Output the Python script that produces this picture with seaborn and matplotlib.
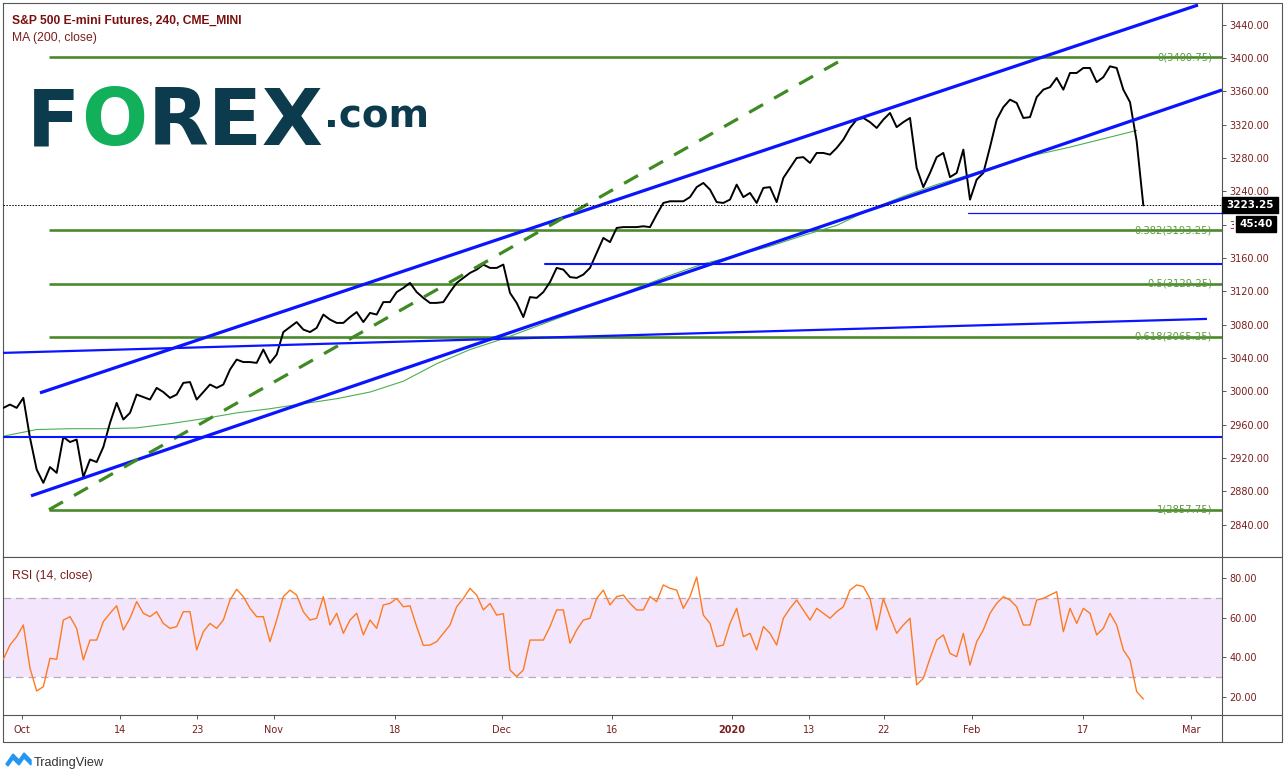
import numpy as np
import pandas as pd
import matplotlib
matplotlib.use("Agg")
import matplotlib.pyplot as plt
from matplotlib.patches import Rectangle, Polygon
from matplotlib.lines import Line2D
from matplotlib.transforms import Bbox, TransformedBbox
import seaborn as sns

# ------------------------------------------------------------------ data
# 4h closes of the S&P 500 E-mini, sampled evenly along the chart (read from picture)
close = [
    2980, 2984, 2980, 2992, 2944, 2906, 2890, 2909, 2902, 2945,
    2939, 2942, 2897, 2918, 2915, 2933, 2962, 2986, 2966, 2974,
    2996, 2993, 2990, 3004, 2999, 2992, 2996, 3010, 3011, 2990,
    2999, 3008, 3004, 3008, 3026, 3038, 3035, 3035, 3034, 3050,
    3034, 3044, 3071, 3077, 3083, 3074, 3071, 3076, 3092, 3086,
    3082, 3082, 3089, 3095, 3083, 3094, 3092, 3107, 3107, 3119,
    3124, 3130, 3119, 3112, 3106, 3106, 3107, 3119, 3130, 3136,
    3142, 3146, 3152, 3148, 3148, 3152, 3118, 3106, 3089, 3113,
    3112, 3119, 3131, 3148, 3146, 3137, 3136, 3140, 3148, 3166,
    3184, 3179, 3196, 3197, 3197, 3197, 3198, 3197, 3212, 3226,
    3228, 3228, 3228, 3233, 3245, 3250, 3242, 3227, 3226, 3230,
    3248, 3233, 3238, 3226, 3244, 3245, 3227, 3256, 3268, 3280,
    3281, 3274, 3286, 3286, 3284, 3292, 3302, 3316, 3326, 3328,
    3323, 3316, 3326, 3334, 3317, 3323, 3328, 3268, 3245, 3262,
    3281, 3286, 3257, 3262, 3290, 3230, 3254, 3262, 3293, 3326,
    3341, 3350, 3346, 3328, 3329, 3353, 3362, 3365, 3376, 3362,
    3382, 3382, 3388, 3388, 3371, 3377, 3390, 3388, 3362, 3347,
    3300, 3223,
]

rsi = [
    39, 46.2, 50.4, 56.3, 34.5, 23, 25.2, 39.5, 39, 58.8,
    60.5, 54.6, 38.7, 48.7, 48.7, 58.0, 62.2, 66, 53.8, 59.7,
    68.1, 62.2, 60.5, 63.0, 57.1, 54.6, 55.5, 63.0, 63.0, 43.7,
    52.9, 57.1, 54.6, 58.8, 68.9, 74.3, 70.6, 64.7, 60.5, 60.5,
    47.9, 58.8, 70.6, 73.9, 71.4, 63.0, 58.8, 59.7, 70.6, 56.3,
    62.2, 52.1, 58.8, 62.2, 51.3, 58.8, 54.6, 66.4, 67.2, 69.7,
    65.5, 66, 55.5, 46, 46.2, 47.9, 52.1, 56.3, 65.5, 69.7,
    74.8, 71.4, 63.9, 67.2, 61.3, 62, 33.6, 30.3, 33.6, 48.7,
    48.7, 48.7, 55.5, 63.9, 63.9, 47.1, 53.8, 58.8, 59.7, 69.7,
    73.9, 66.4, 70.6, 71.4, 67.2, 63.9, 63.9, 70.6, 68.1, 76.5,
    74.8, 73.9, 64.7, 70.6, 80.5, 61.3, 57.1, 45.4, 46.2, 57.1,
    64.7, 50.4, 52.1, 43.7, 55.5, 52.1, 46.2, 59.7, 64.7, 68.9,
    63.9, 58.8, 64.7, 62.2, 59.7, 63.0, 65.5, 73.9, 76.5, 75.7,
    69.7, 53.8, 69.7, 60.5, 52.1, 56.3, 59.7, 26.1, 29.4, 39.5,
    48.7, 51.3, 42.0, 40.3, 52.1, 36.1, 47.9, 53.8, 62.2, 67.2,
    70.6, 68.9, 65.5, 56.3, 56.3, 68.9, 69.7, 71.4, 73.1, 52.9,
    64.7, 57.1, 64.7, 62.2, 51.3, 54.6, 62.2, 56.3, 43.7, 38.7,
    22.7, 19,
]

# 200-period moving average, read every 5 samples
ma200 = [
    2946, 2954, 2955, 2955, 2956, 2961, 2967, 2974, 2979, 2985,
    2991, 2999, 3012, 3033, 3050, 3063, 3078, 3093, 3108, 3124,
    3139, 3153, 3163, 3174, 3187, 3199, 3218, 3234, 3248, 3260,
    3273, 3284, 3293, 3303, 3313,
]
ma_step = 5

fib_ratios = ["0", "0.382", "0.5", "0.618", "1"]
fib_levels = [3400.75, 3193.25, 3129.25, 3065.25, 2857.75]
fib_start = 6.85

last_price = 3223.25
countdown = "45:40"

# drawn trend lines: (x0, x1), (y0, y1) in sample index / price
upper_channel = ([5.5, 179.2], [2998, 3463.6])
lower_channel = ([4.15, 182.8], [2874.4, 3361.6])
dashed_trend = ([6.85, 125.2], [2857.75, 3395.2])
flat_line = ([-0.05, 180.55], [3046, 3086.8])
h_levels = [2945, 3152.5]
h_starts = [-0.05, 81.25]
support_level = 3214
support_start = 144.7

date_ticks = [2.8, 17.5, 29.05, 40.6, 58.75, 74.8, 91.3, 109.3, 120.85, 132.1, 145.3, 161.95, 178.15]
date_labels = ["Oct", "14", "23", "Nov", "18", "Dec", "16", "2020", "13", "22", "Feb", "17", "Mar"]
price_ticks = list(range(2840, 3441, 40))
rsi_ticks = [20, 40, 60, 80]

title = "S&P 500 E-mini Futures, 240, CME_MINI"
ma_label = "MA (200, close)"
rsi_label = "RSI (14, close)"

# ------------------------------------------------------------------ style
sns.set_theme(style="white")
plt.rcParams["font.family"] = ["DejaVu Sans"]

W, H = 1288, 779
fig = plt.figure(figsize=(W / 100, H / 100), dpi=100)
fig.patch.set_facecolor("white")


def fx(px):
    return px / W


def fy(py):
    return 1 - py / H


FRAME = "#555555"
LBL = "#7a1e1e"
GREEN = "#4b8a2c"
BLUE = "#0a14ff"

XL = (-0.05, 182.8)

ax = fig.add_axes([fx(3), fy(557), (1222 - 3) / W, (557 - 3) / H])
ax2 = fig.add_axes([fx(3), fy(715), (1222 - 3) / W, (715 - 557) / H], sharex=ax)

df = pd.DataFrame({"i": np.arange(len(close)), "close": close, "rsi": rsi})
df_ma = pd.DataFrame({"i": np.arange(len(ma200)) * ma_step, "ma": ma200})

# fib levels
for lvl, r in zip(fib_levels, fib_ratios):
    ax.plot([fib_start, XL[1]], [lvl, lvl], color=GREEN, lw=1.9, zorder=2, solid_capstyle="butt")
    ax.text(181.3, lvl, f"{r}({lvl:.2f})", ha="right", va="center", color="#5b9a3c",
            fontsize=7.2, zorder=6)

# MA and price
sns.lineplot(data=df_ma, x="i", y="ma", ax=ax, color="#4caf50", lw=0.8, zorder=3, estimator=None)
sns.lineplot(data=df, x="i", y="close", ax=ax, color="black", lw=1.4, zorder=4, estimator=None)

# trend lines
ax.plot(*upper_channel, color=BLUE, lw=2.3, zorder=5, solid_capstyle="butt")
ax.plot(*lower_channel, color=BLUE, lw=2.3, zorder=5, solid_capstyle="butt")
ax.plot(*flat_line, color=BLUE, lw=1.6, zorder=5, solid_capstyle="butt")
ax.plot(*dashed_trend, color="#3f8a22", lw=2.3, ls=(0, (5, 4)), zorder=5, solid_capstyle="butt")
for lvl, s in zip(h_levels, h_starts):
    ax.plot([s, XL[1]], [lvl, lvl], color=BLUE, lw=1.5, zorder=5)
ax.plot([support_start, XL[1]], [support_level, support_level], color=BLUE, lw=0.9, zorder=5)
ax.axhline(last_price, color="black", lw=0.7, ls=(0, (1.5, 1.5)), zorder=5)

ax.set_xlim(*XL)
ax.set_ylim(2801, 3466)
ax.yaxis.tick_right()
ax.set_yticks(price_ticks)
ax.set_yticklabels([f"{t:.2f}" for t in price_ticks])
ax.tick_params(axis="y", right=True, length=3, width=0.7, color=FRAME, labelsize=7,
               labelcolor=LBL, pad=2.5)
ax.tick_params(axis="x", bottom=False, labelbottom=False)
ax.set_xlabel("")
ax.set_ylabel("")

# the 3200 label sits under the countdown box: only its first digit shows
clip = TransformedBbox(Bbox.from_extents(0, 0, fx(1234), 1), fig.transFigure)
for t in ax.get_yticklabels():
    if t.get_text() == "3200.00":
        t.set_clip_box(clip)
        t.set_clip_on(True)

# RSI panel
ax2.axhspan(30, 70, color="#f3e6fc", lw=0, zorder=0)
for lv in (70, 30):
    ax2.axhline(lv, color="#b9aab9", lw=0.9, ls=(0, (6, 4)), zorder=1)
sns.lineplot(data=df, x="i", y="rsi", ax=ax2, color="#ff7a1f", lw=1.0, zorder=3, estimator=None)
ax2.set_ylim(10.9, 90.6)
ax2.yaxis.tick_right()
ax2.set_yticks(rsi_ticks)
ax2.set_yticklabels([f"{t:.2f}" for t in rsi_ticks])
ax2.tick_params(axis="y", right=True, length=3, width=0.7, color=FRAME, labelsize=7,
                labelcolor=LBL, pad=2.5)
ax2.set_xticks(date_ticks)
ax2.set_xticklabels(date_labels)
ax2.tick_params(axis="x", bottom=True, length=3, width=0.7, color=FRAME, labelsize=7,
                labelcolor=LBL, pad=4.5)
for t in ax2.get_xticklabels():
    if t.get_text() == "2020":
        t.set_fontweight("bold")
ax2.set_xlabel("")
ax2.set_ylabel("")

for a in (ax, ax2):
    for s in a.spines.values():
        s.set_color(FRAME)
        s.set_linewidth(0.8)
    a.grid(False)
    a.set_facecolor("white")

# outer frame pieces
def fline(x0, y0, x1, y1):
    fig.add_artist(Line2D([fx(x0), fx(x1)], [fy(y0), fy(y1)], color=FRAME, lw=0.8,
                          transform=fig.transFigure))

fline(3, 715, 3, 742)
fline(1222, 715, 1222, 742)
fline(1282, 3, 1282, 742)
fline(3, 742, 1282, 742)
fline(1222, 3, 1282, 3)
fline(1222, 557, 1282, 557)
fline(1222, 715, 1282, 715)

# header texts
fig.text(fx(12), fy(24), title, fontsize=8.7, fontweight="bold", color="#7a0f0f",
         family="Liberation Sans", va="baseline")
fig.text(fx(12), fy(41), ma_label, fontsize=8.7, color="#7a1e1e",
         family="Liberation Sans", va="baseline")
fig.text(fx(12), fy(579), rsi_label, fontsize=8.7, color="#7a1e1e",
         family="Liberation Sans", va="baseline")

# FOREX.com logo
NAVY = "#0c3b4d"
fig.text(fx(27), fy(145), "F", fontsize=56, fontweight="bold", color=NAVY, va="baseline")
fig.text(fx(81), fy(145), "O", fontsize=56, fontweight="bold", color="#12b05a", va="baseline")
fig.text(fx(148), fy(145), "REX", fontsize=57, fontweight="bold", color=NAVY, va="baseline")
fig.text(fx(324), fy(128), ".com", fontsize=28, fontweight="bold", color=NAVY, va="baseline")

# last price / countdown boxes
fig.add_artist(Rectangle((fx(1222), fy(213)), 56 / W, 16 / H, color="black",
                         transform=fig.transFigure, zorder=10))
fig.text(fx(1250), fy(205), f"{last_price:.2f}", color="white", fontsize=7.5, fontweight="bold",
         ha="center", va="center", zorder=11)
fig.add_artist(Rectangle((fx(1236), fy(232)), 40 / W, 16 / H, color="black",
                         transform=fig.transFigure, zorder=10))
fig.text(fx(1256), fy(224), countdown, color="white", fontsize=7.5, fontweight="bold",
         ha="center", va="center", zorder=11)

# TradingView footer
icon = [(6, 764), (13, 754), (19, 760), (24, 753), (31, 760), (31, 765), (24, 758),
        (19, 765), (13, 759), (8, 766)]
fig.add_artist(Polygon([(fx(a), fy(b)) for a, b in icon], closed=True, color="#2196f3",
                       transform=fig.transFigure))
fig.text(fx(34), fy(766), "TradingView", fontsize=9.2, color="#333333",
         family="Liberation Sans", va="baseline")

fig.savefig("out.png", dpi=100, facecolor="white")
